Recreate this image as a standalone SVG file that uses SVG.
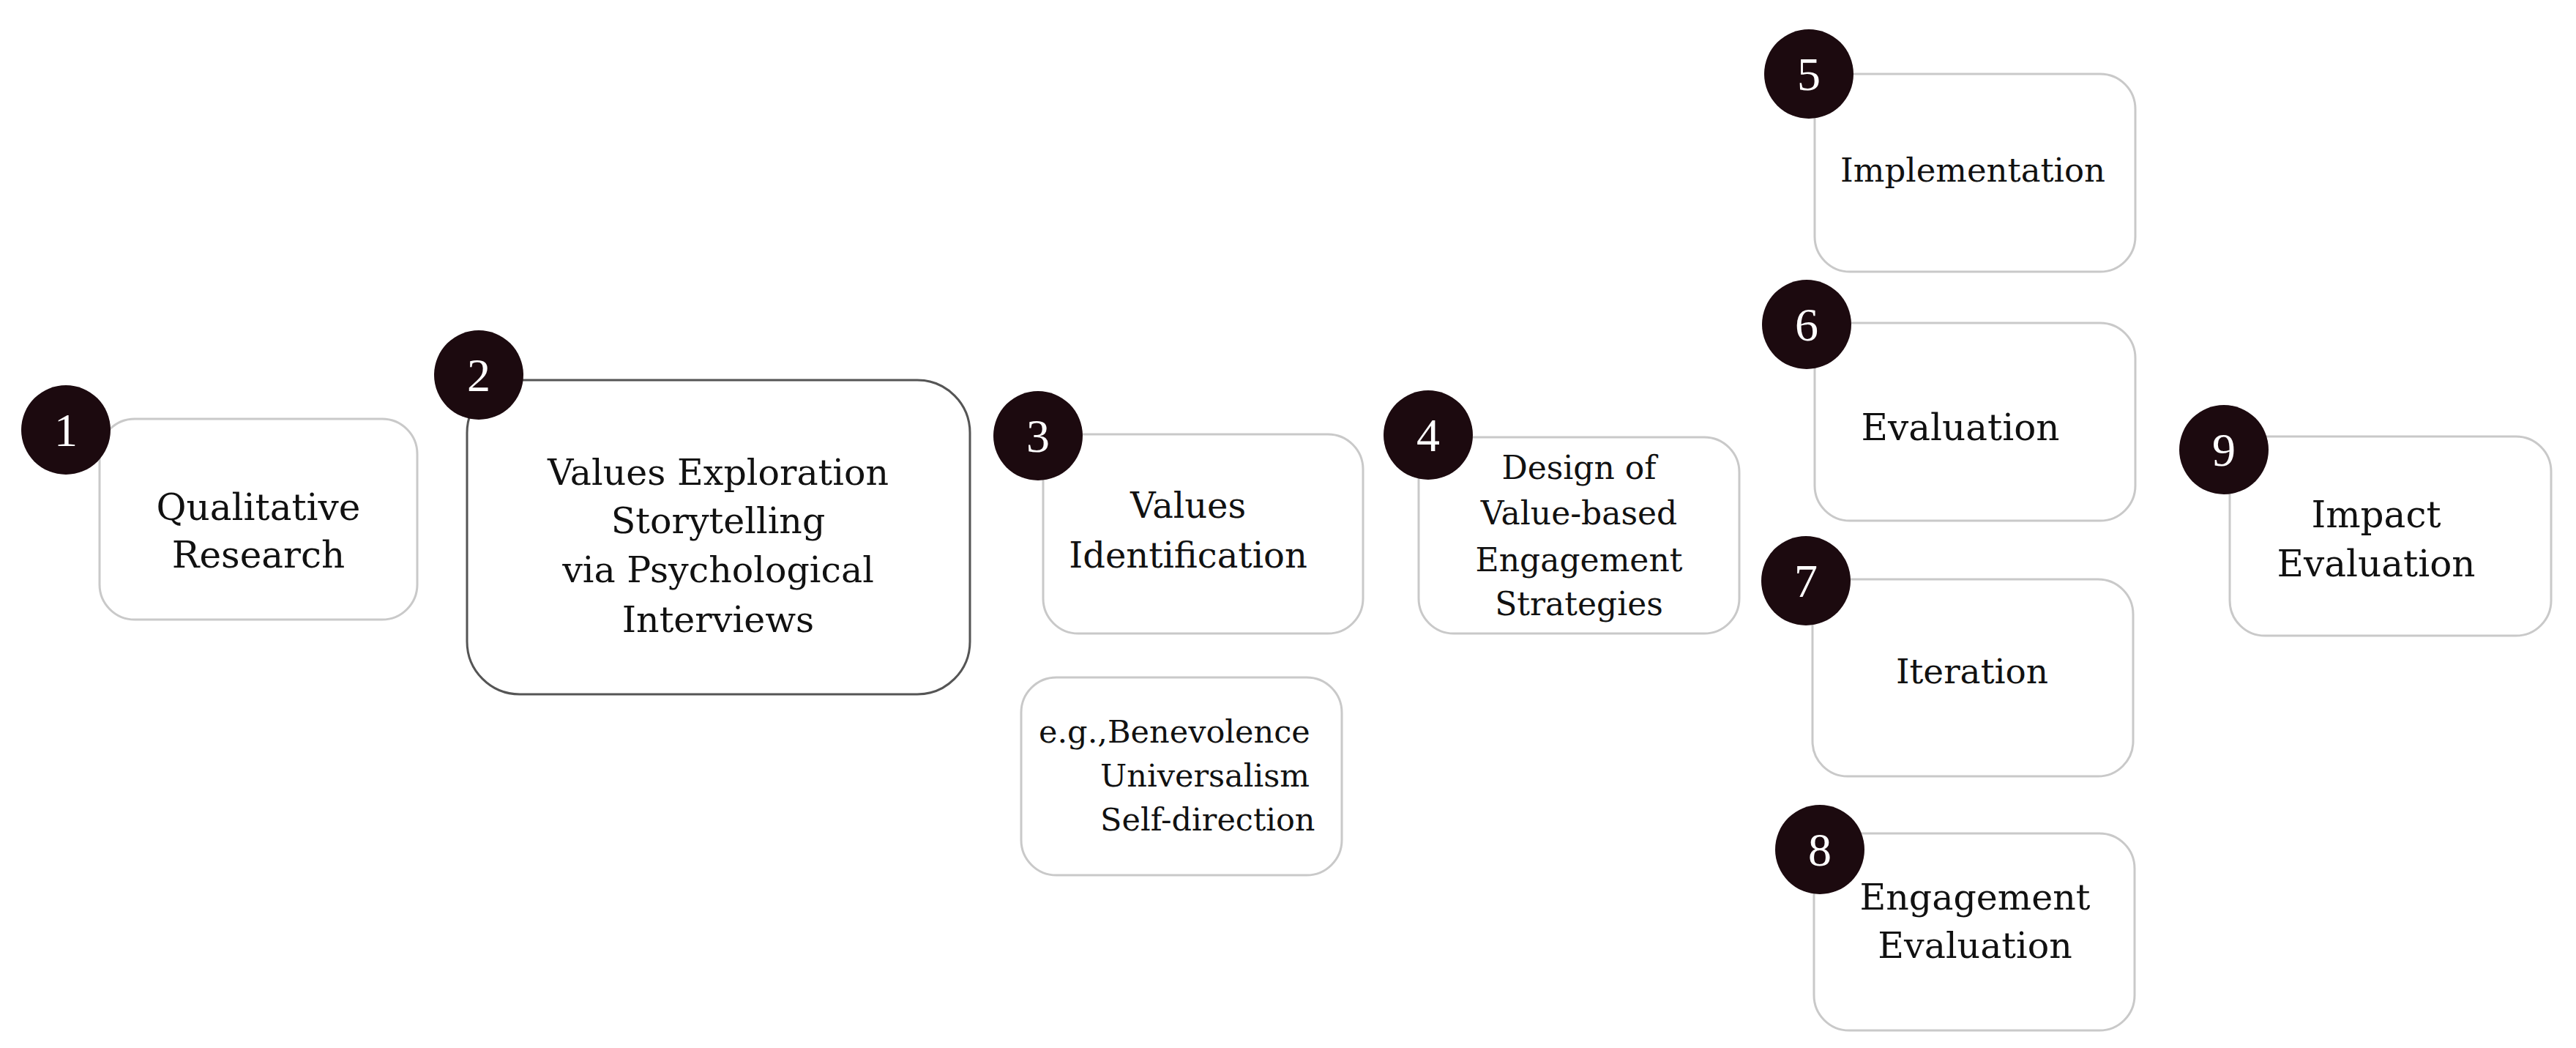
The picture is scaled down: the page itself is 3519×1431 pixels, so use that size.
<svg xmlns="http://www.w3.org/2000/svg" width="3519" height="1431" viewBox="0 0 3519 1431">
<style>
.box{fill:#ffffff;stroke:#c9c9c9;stroke-width:3}
.box2{fill:#ffffff;stroke:#555555;stroke-width:3}
.badge{fill:#1c0a0f}
.num{fill:#ffffff;font-family:"Liberation Serif","DejaVu Serif",serif;font-size:64px;text-anchor:middle}
.lbl{fill:#111111;font-family:"DejaVu Serif","Liberation Serif",serif;text-anchor:middle}
</style>
<rect width="3519" height="1431" fill="#ffffff"/>
<g id="connectors"></g>
<g id="node1">
<rect class="box" x="136" y="572" width="434" height="274" rx="48"/>
<text class="lbl" font-size="50"><tspan x="353" y="710">Qualitative</tspan><tspan x="353" y="775">Research</tspan></text>
<circle class="badge" cx="90" cy="587" r="61"/>
<text class="num" x="90" y="609">1</text>
</g>
<g id="node2">
<rect class="box2" x="638" y="519" width="687" height="429" rx="72"/>
<text class="lbl" font-size="49"><tspan x="981" y="662">Values Exploration</tspan><tspan x="981" y="728">Storytelling</tspan><tspan x="981" y="795">via Psychological</tspan><tspan x="981" y="863">Interviews</tspan></text>
<circle class="badge" cx="654" cy="512" r="61"/>
<text class="num" x="654" y="534">2</text>
</g>
<g id="node3">
<rect class="box" x="1425" y="593" width="437" height="272" rx="48"/>
<text class="lbl" font-size="48"><tspan x="1623" y="707">Values</tspan><tspan x="1623" y="775">Identification</tspan></text>
<circle class="badge" cx="1418" cy="595" r="61"/>
<text class="num" x="1418" y="617">3</text>
</g>
<g id="node3b">
<rect class="box" x="1395" y="925" width="438" height="270" rx="48"/>
<text class="lbl" font-size="43" text-anchor="start" style="text-anchor:start"><tspan x="1419" y="1014">e.g.,Benevolence</tspan><tspan x="1503" y="1074">Universalism</tspan><tspan x="1503" y="1134">Self-direction</tspan></text>
</g>
<g id="node4">
<rect class="box" x="1938" y="597" width="438" height="268" rx="48"/>
<text class="lbl" font-size="44"><tspan x="2157" y="654">Design of</tspan><tspan x="2157" y="716">Value-based</tspan><tspan x="2157" y="780">Engagement</tspan><tspan x="2157" y="840">Strategies</tspan></text>
<circle class="badge" cx="1951" cy="594" r="61"/>
<text class="num" x="1951" y="616">4</text>
</g>
<g id="node5">
<rect class="box" x="2479" y="101" width="438" height="270" rx="48"/>
<text class="lbl" font-size="45" x="2695" y="248">Implementation</text>
<circle class="badge" cx="2471" cy="101" r="61"/>
<text class="num" x="2471" y="123">5</text>
</g>
<g id="node6">
<rect class="box" x="2479" y="441" width="438" height="270" rx="48"/>
<text class="lbl" font-size="50" x="2678" y="601">Evaluation</text>
<circle class="badge" cx="2468" cy="443" r="61"/>
<text class="num" x="2468" y="465">6</text>
</g>
<g id="node7">
<rect class="box" x="2476" y="791" width="438" height="269" rx="48"/>
<text class="lbl" font-size="47" x="2694" y="933">Iteration</text>
<circle class="badge" cx="2467" cy="793" r="61"/>
<text class="num" x="2467" y="815">7</text>
</g>
<g id="node8">
<rect class="box" x="2478" y="1138" width="438" height="269" rx="48"/>
<text class="lbl" font-size="49"><tspan x="2698" y="1242">Engagement</tspan><tspan x="2698" y="1308">Evaluation</tspan></text>
<circle class="badge" cx="2486" cy="1160" r="61"/>
<text class="num" x="2486" y="1182">8</text>
</g>
<g id="node9">
<rect class="box" x="3046" y="596" width="439" height="272" rx="48"/>
<text class="lbl" font-size="50"><tspan x="3246" y="720">Impact</tspan><tspan x="3246" y="787">Evaluation</tspan></text>
<circle class="badge" cx="3038" cy="614" r="61"/>
<text class="num" x="3038" y="636">9</text>
</g>
</svg>
